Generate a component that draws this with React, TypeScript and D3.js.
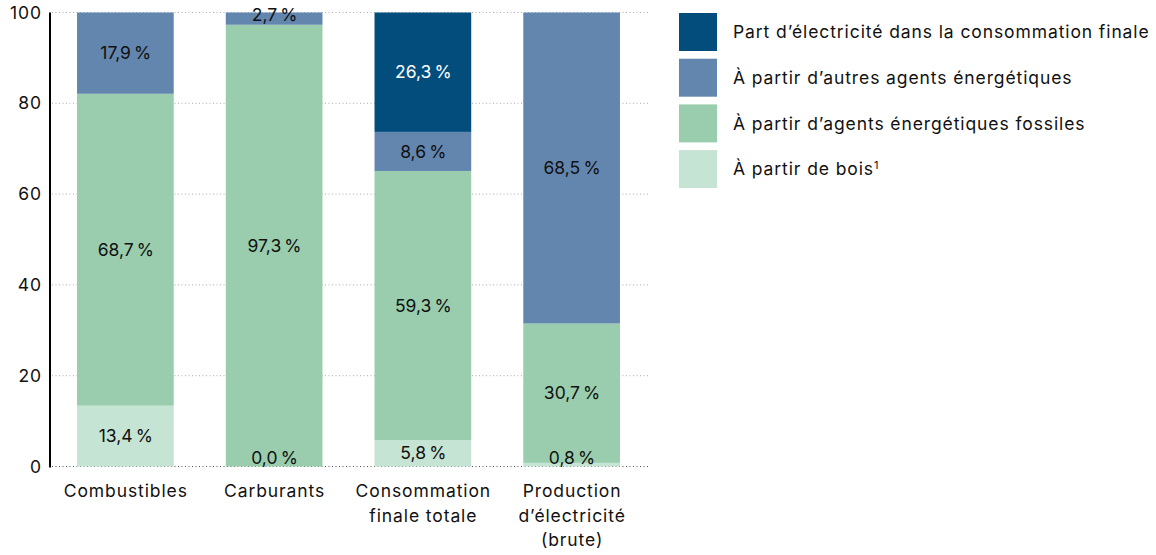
import React from "react";
import * as d3 from "d3";

const categories = ["Combustibles", "Carburants", "Consommation finale totale", "Production d’électricité (brute)"];
const categoryLines = [["Combustibles"], ["Carburants"], ["Consommation", "finale totale"], ["Production", "d’électricité", "(brute)"]];
const seriesKeys = ["bois", "fossile", "autres", "electricite"];
const seriesNames = [
  "Part d’électricité dans la consommation finale",
  "À partir d’autres agents énergétiques",
  "À partir d’agents énergétiques fossiles",
  "À partir de bois",
];
const bois = [13.4, 0.0, 5.8, 0.8];
const fossile = [68.7, 97.3, 59.3, 30.7];
const autres = [17.9, 2.7, 8.6, 68.5];
const electricite = [0, 0, 26.3, 0];
const yTicks = [0, 20, 40, 60, 80, 100];

const colors: Record<string, string> = {
  bois: "#c6e4d3",
  fossile: "#99cdae",
  autres: "#6386af",
  electricite: "#024d7c",
};
const legendOrder = ["electricite", "autres", "fossile", "bois"];

const FONT = "Inter, 'Noto Sans', sans-serif";
const LS = 0.9;

export default function App() {
  const W = 1156, H = 555;
  const x = d3.scaleBand<string>().domain(categories).range([51, 646]).paddingInner(0.35).paddingOuter(0.175);
  const y = d3.scaleLinear().domain([0, 100]).range([466.5, 12.5]);

  const table = categories.map((c, i) => ({
    cat: c,
    bois: bois[i],
    fossile: fossile[i],
    autres: autres[i],
    electricite: electricite[i],
  }));
  const stack = d3.stack<any>().keys(seriesKeys)(table);
  const fmt = (v: number) => v.toFixed(1).replace(".", ",") + "\u202F%";

  return (
    <svg width={W} height={H} style={{ position: "absolute", left: 0, top: 0, fontFamily: FONT, letterSpacing: LS }}>
      {yTicks.map((t) => (
        <g key={t}>
          <line x1={52} x2={648} y1={y(t)} y2={y(t)} stroke={t === 0 ? "#555" : "#aaa"} strokeWidth={1} strokeDasharray="1,2.5" />
          <text x={41 + LS} y={y(t)} dy="0.35em" textAnchor="end" fontSize={17.5} fill="#111">{t}</text>
        </g>
      ))}
      {stack.map((layer) =>
        layer.map((d, i) => {
          const v = d[1] - d[0];
          if (v <= 0 && layer.key !== "bois") return null;
          const x0 = x(categories[i])!;
          const yTop = y(d[1]);
          const yBot = y(d[0]);
          return (
            <rect key={layer.key + i} x={x0} width={x.bandwidth()} y={yTop} height={Math.max(0, yBot - yTop)} fill={colors[layer.key]} />
          );
        })
      )}
      {stack.map((layer) =>
        layer.map((d, i) => {
          const v = d[1] - d[0];
          if (layer.key === "electricite" && v <= 0) return null;
          const cx = x(categories[i])! + x.bandwidth() / 2 + LS / 2;
          const yTop = y(d[1]);
          const yBot = y(d[0]);
          let cy = (yTop + yBot) / 2;
          if (yBot - yTop < 20) {
            if (d[0] === 0) cy = yBot - 8.5;
            else cy = yTop + 2;
          }
          return (
            <text key={"l" + layer.key + i} x={cx} y={cy} dy="0.35em" textAnchor="middle" fontSize={17.5}
              fill={layer.key === "electricite" ? "#fff" : "#111"}>{fmt(v)}</text>
          );
        })
      )}
      <line x1={50} x2={50} y1={12.5} y2={467.5} stroke="#000" strokeWidth={2} />
      {categoryLines.map((lines, i) => (
        <text key={"c" + i} textAnchor="middle" fontSize={17.5} fill="#111">
          {lines.map((ln, j) => (
            <tspan key={j} x={x(categories[i])! + x.bandwidth() / 2 + LS / 2} y={497 + j * 24.5}>{ln}</tspan>
          ))}
        </text>
      ))}
      {legendOrder.map((k, i) => {
        const ly = 13 + i * 45.7;
        return (
          <g key={"lg" + k}>
            <rect x={679} y={ly} width={38} height={38} fill={colors[k]} />
            <text x={733} y={ly + 19} dy="0.35em" fontSize={17.5} fill="#111">
              {seriesNames[i]}
              {k === "bois" ? <tspan fontSize={11} dy="-0.6em">1</tspan> : null}
            </text>
          </g>
        );
      })}
    </svg>
  );
}
